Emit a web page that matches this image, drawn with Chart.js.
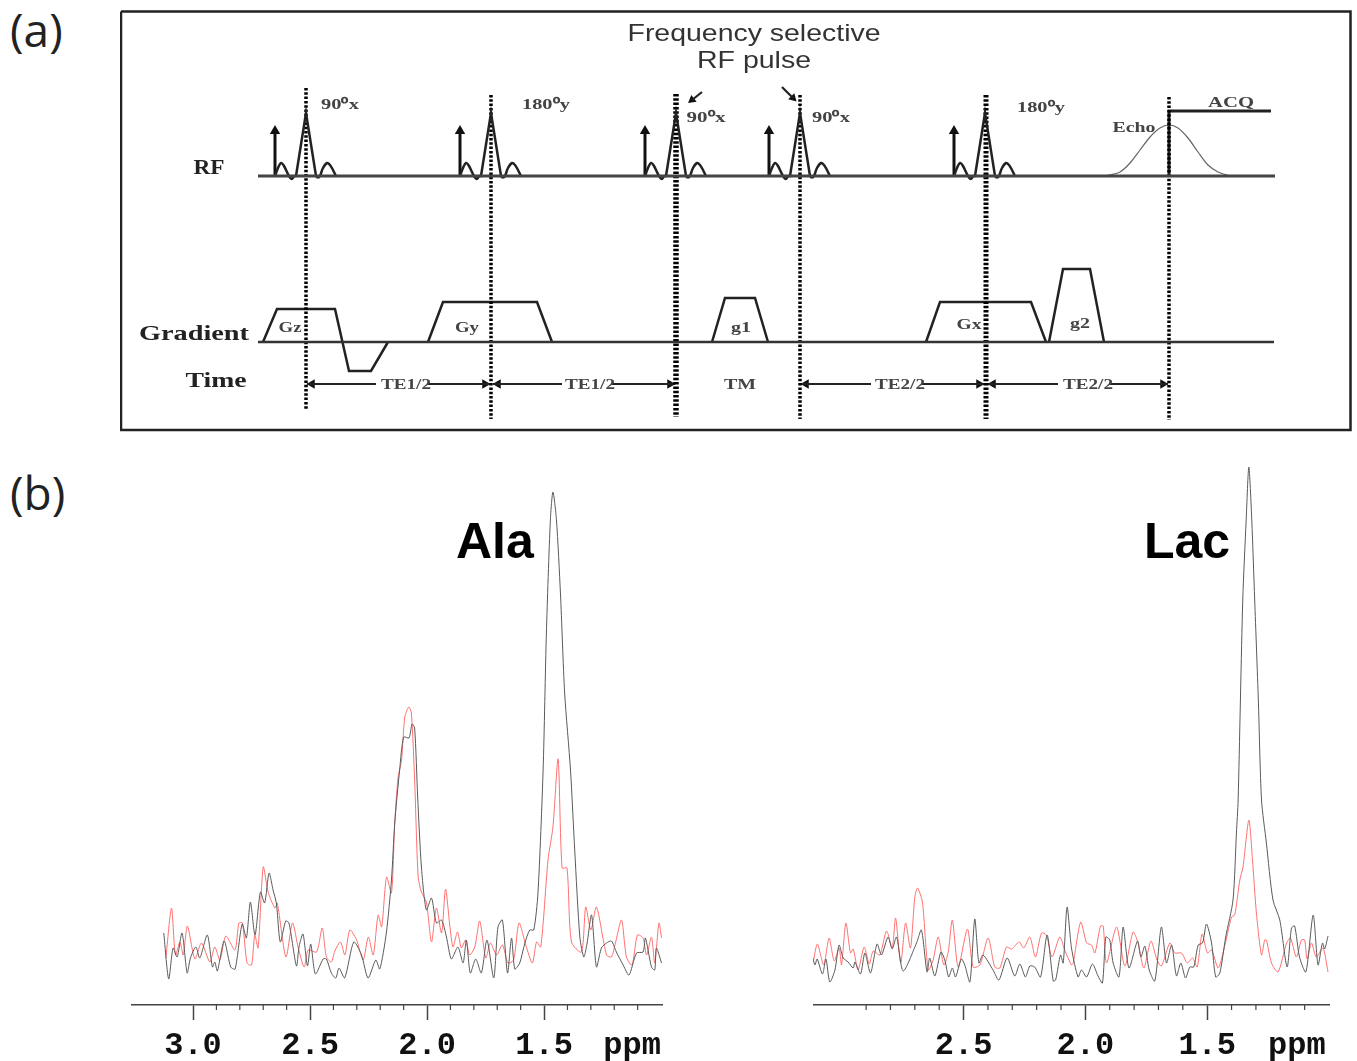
<!DOCTYPE html>
<html>
<head>
<meta charset="utf-8">
<title>Pulse sequence and spectra</title>
<script src="https://cdn.jsdelivr.net/npm/chart.js@4/dist/chart.umd.min.js"></script>
<style>
  html, body { margin: 0; padding: 0; background: #fff; }
  body { position: relative; width: 1357px; height: 1061px; overflow: hidden; }
  canvas { position: absolute; filter: blur(0.55px); }
  #sequence { filter: blur(0.6px); }
  .tag { position: absolute; font-family: "Open Sans", sans-serif; font-size: 46px; line-height: 50px; color: #222; }
  .name { position: absolute; font-family: "Liberation Sans", sans-serif; font-weight: bold; font-size: 50px; line-height: 56px; color: #000; }
</style>
</head>
<body>
<div class="tag" style="left:10px;top:4px">(a)</div>
<div class="tag" style="left:10px;top:467px">(b)</div>
<div class="name" style="left:456px;top:513px">Ala</div>
<div class="name" style="left:1144px;top:513px">Lac</div>
<canvas id="sequence" width="1232" height="422" style="left:120px;top:10px"></canvas>
<canvas id="ala" width="551" height="601" style="left:131px;top:460px"></canvas>
<canvas id="lac" width="536" height="601" style="left:813px;top:460px"></canvas>
<script>
// ---- panel (b) data: chemical shift (ppm) and signal height ----
var alaTickValues = [3.0, 2.5, 2.0, 1.5, 1.124];
var alaTickLabels = ["3.0", "2.5", "2.0", "1.5", "ppm"];
var alaMinorTicks = [2.9, 2.8, 2.7, 2.6, 2.4, 2.3, 2.2, 2.1, 1.9, 1.8, 1.7, 1.6, 1.4, 1.3, 1.2, 1.1];
var lacTickValues = [2.5, 2.0, 1.5, 1.132];
var lacTickLabels = ["2.5", "2.0", "1.5", "ppm"];
var lacMinorTicks = [2.9, 2.8, 2.7, 2.6, 2.4, 2.3, 2.2, 2.1, 1.9, 1.8, 1.7, 1.6, 1.4, 1.3, 1.2, 1.1];

var alaBlackPpm = [3.125,3.104,3.085,3.068,3.047,3.025,3.011,2.988,2.971,2.939,2.917,2.907,2.896,2.867,2.839,2.820,2.790,2.772,2.755,2.735,2.712,2.694,2.675,2.658,2.644,2.627,2.604,2.590,2.558,2.547,2.530,2.511,2.497,2.477,2.444,2.430,2.409,2.390,2.376,2.352,2.313,2.280,2.252,2.219,2.202,2.174,2.152,2.138,2.117,2.100,2.077,2.064,2.053,2.040,2.024,2.003,1.981,1.960,1.938,1.917,1.896,1.868,1.846,1.832,1.815,1.792,1.768,1.744,1.715,1.697,1.678,1.656,1.639,1.625,1.604,1.582,1.561,1.544,1.526,1.504,1.490,1.473,1.462,1.447,1.430,1.412,1.387,1.369,1.347,1.330,1.316,1.297,1.276,1.255,1.233,1.212,1.191,1.162,1.137,1.105,1.077,1.067,1.041,1.027,1.020,0.998];
var alaBlack = [72,26,57,48,72,32,47,58,47,70,38,43,34,64,38,36,81,67,103,70,113,102,132,115,102,63,84,82,39,58,71,39,61,31,46,46,32,27,37,27,63,50,27,45,36,72,125,182,235,268,267,281,277,208,138,95,107,82,85,68,46,58,42,65,32,46,32,65,27,78,85,32,67,36,42,62,75,75,112,235,372,485,513,485,412,312,235,155,68,48,62,90,38,57,62,64,53,40,30,52,53,67,38,35,57,42];

var alaRedPpm = [3.116,3.092,3.075,3.056,3.042,3.024,2.992,2.964,2.928,2.907,2.885,2.860,2.821,2.804,2.789,2.769,2.750,2.736,2.722,2.700,2.679,2.650,2.640,2.603,2.575,2.551,2.525,2.508,2.472,2.448,2.430,2.409,2.394,2.370,2.351,2.330,2.301,2.273,2.251,2.230,2.209,2.194,2.173,2.152,2.138,2.124,2.109,2.095,2.078,2.067,2.053,2.038,2.024,2.003,1.981,1.960,1.938,1.921,1.903,1.889,1.870,1.853,1.835,1.818,1.796,1.775,1.749,1.729,1.703,1.678,1.654,1.630,1.607,1.578,1.550,1.532,1.514,1.483,1.462,1.440,1.423,1.402,1.383,1.340,1.322,1.300,1.276,1.233,1.212,1.195,1.169,1.148,1.124,1.101,1.077,1.062,1.041,1.027,1.009,0.998];
var alaRed = [47,97,50,63,50,79,46,62,43,58,45,69,55,82,82,42,40,70,57,138,113,97,102,48,82,58,38,55,53,77,48,43,54,63,50,75,65,45,68,50,90,78,128,112,182,227,245,288,298,292,225,128,113,103,63,97,72,116,80,58,73,57,65,50,58,84,47,62,50,60,42,45,82,60,42,63,58,145,178,246,137,137,63,53,98,75,98,50,48,62,85,48,40,70,67,50,68,42,82,67];

var lacBlackPpm = [3.120,3.110,3.101,3.079,3.065,3.049,3.028,3.011,2.994,2.974,2.953,2.946,2.923,2.905,2.882,2.855,2.837,2.810,2.793,2.775,2.748,2.693,2.673,2.650,2.639,2.618,2.593,2.577,2.561,2.546,2.533,2.509,2.495,2.474,2.454,2.437,2.420,2.379,2.355,2.321,2.290,2.269,2.246,2.228,2.208,2.184,2.157,2.132,2.122,2.102,2.091,2.075,2.057,2.030,2.016,1.995,1.971,1.948,1.930,1.916,1.900,1.886,1.862,1.845,1.821,1.786,1.772,1.756,1.738,1.715,1.688,1.667,1.646,1.626,1.608,1.589,1.571,1.555,1.537,1.519,1.503,1.482,1.465,1.448,1.424,1.394,1.380,1.373,1.354,1.340,1.329,1.317,1.305,1.290,1.277,1.257,1.230,1.202,1.172,1.154,1.141,1.121,1.095,1.065,1.045,1.027,1.018,1.004];
var lacBlack = [48,40,46,31,46,23,35,60,47,43,37,43,31,52,32,61,50,68,56,68,34,62,75,33,47,29,53,45,28,37,28,46,40,23,86,42,50,35,25,47,29,41,28,39,38,28,70,24,25,50,42,98,57,28,35,28,41,29,22,68,65,42,28,78,37,64,48,59,35,24,78,42,60,29,42,27,38,38,60,62,81,62,28,32,68,105,172,205,405,485,538,485,405,305,205,162,105,85,38,77,79,48,33,90,40,62,56,69];

var lacRedPpm = [3.117,3.100,3.074,3.052,3.031,3.011,3.001,2.983,2.964,2.953,2.933,2.908,2.887,2.871,2.844,2.816,2.793,2.779,2.758,2.738,2.718,2.700,2.689,2.669,2.645,2.625,2.604,2.581,2.563,2.546,2.522,2.484,2.461,2.433,2.399,2.372,2.351,2.324,2.303,2.272,2.253,2.228,2.205,2.180,2.160,2.137,2.105,2.085,2.057,2.050,2.019,1.995,1.975,1.961,1.938,1.927,1.913,1.872,1.838,1.804,1.784,1.760,1.731,1.706,1.688,1.653,1.633,1.605,1.582,1.560,1.541,1.521,1.499,1.482,1.455,1.432,1.400,1.387,1.366,1.353,1.329,1.314,1.298,1.277,1.264,1.257,1.236,1.209,1.174,1.158,1.134,1.113,1.100,1.090,1.072,1.052,1.025,1.004];
var lacRed = [43,61,40,67,44,57,40,82,52,56,35,58,41,54,50,74,57,87,42,82,57,108,117,103,35,45,68,40,53,85,38,76,38,40,67,38,37,58,56,63,57,68,48,72,70,48,68,55,40,42,83,62,60,52,79,79,42,78,39,73,62,37,64,45,39,62,52,52,42,47,38,71,52,55,37,55,88,90,125,138,185,145,92,50,65,65,42,33,62,67,48,65,65,46,62,48,57,33];

// ---- panel (a) data: time position and level of each trace ----
var rfBaseline = [[258,176],[1275,176]];
var gradBaseline = [[258,342],[1274,342]];
var pulseCenters = [306,491,676,800,985];
var lineCenters = [306,491,676,800,986,1169];
var lineTops = [88,95,94,95,95,97];
var lineBottoms = [410,419,417,419,419,420];
var lineWidths = [3.5,3.5,5.5,3.5,5,3.5];
var leftLobeX = [-31,-28,-25,-22,-17,-14,-12];
var leftLobeLevel = [176,168,163,166,176,179,176];
var mainLobeX = [-12,-10,0,10,12];
var mainLobeLevel = [176,176,113,176,178];
var rightLobeX = [12,14,17,21,24,27,30];
var rightLobeLevel = [178,176,168,163,165,170,176];
var gzShape = [[263,342],[277,309],[335,309],[349,371],[371,371],[388,342]];
var gyShape = [[428,342],[443,302],[537,302],[552,342]];
var g1Shape = [[712,342],[725,298],[755,298],[768,342]];
var gxShape = [[926,342],[940,302],[1031,302],[1046,342]];
var g2Shape = [[1049,342],[1063,269],[1090,269],[1104,342]];
var acqShape = [[1169,176],[1169,111],[1271,111]];
var echoShape = [[1106,176],[1120,172],[1130,163],[1140,150],[1150,137],[1160,128],[1169,125],[1178,128],[1188,138],[1198,152],[1208,165],[1218,172],[1230,176]];
var timeSpans = [[307,490,376,428],[493,675,562,612],[801,984,871,922],[988,1168,1058,1110]];
var timeLevel = 384;
var frameShape = [[121,11.5],[1350.5,11.5],[1350.5,430],[121,430],[121,11.5]];
var leftNoteArrow = [[702,92],[692,100]];
var rightNoteArrow = [[782,87],[793,98]];

var labelTexts = ["Frequency selective","RF pulse","90\u2070x","180\u2070y","90\u2070x","90\u2070x","180\u2070y","ACQ","Echo","RF","Gradient","Time","Gz","Gy","g1","Gx","g2","TE1/2","TE1/2","TM","TE2/2","TE2/2"];
var labelX = [754,754,340,546,706,831,1041,1231,1134,209,194,216,290,467,741,969,1080,406,590,740,900,1088];
var labelY = [34,61,105,105,118,118,108,103,128,169,334,381,328,328,328,325,324,385,385,385,385,385];
var labelW = [253,114,38,48,39,38,48,46,43,31,110,61,23,24,20,25,20,50,50,32,50,50];
var labelSize = [24,24,14,14,14,14,14,14,14,21,22,22,14,14,14,14,14,15,15,15,15,15];

function pts(list) {
  return list.map(function (p) { return { x: p[0], y: p[1] }; });
}

function trace(list, width, color, extra) {
  var ds = { data: pts(list), showLine: true, borderColor: color, borderWidth: width, pointRadius: 0, tension: 0, fill: false };
  for (var k in extra) ds[k] = extra[k];
  return ds;
}

function markers(list, rotation, size) {
  return { data: pts(list), showLine: false, pointStyle: 'triangle', pointRadius: size, pointRotation: rotation,
    pointBackgroundColor: '#111', pointBorderColor: '#111', pointBorderWidth: 0 };
}

function shifted(c, xs, levels) {
  return xs.map(function (dx, i) { return [c + dx, levels[i]]; });
}

var seqSets = [];
seqSets.push(trace(frameShape, 2.5, '#222'));
seqSets.push(trace(rfBaseline, 3, '#444'));
seqSets.push(trace(gradBaseline, 2.5, '#333'));
pulseCenters.forEach(function (c) {
  seqSets.push(trace(shifted(c, leftLobeX, leftLobeLevel), 2.5, '#222', { tension: 0.35 }));
  seqSets.push(trace(shifted(c, mainLobeX, mainLobeLevel), 2.5, '#222'));
  seqSets.push(trace(shifted(c, rightLobeX, rightLobeLevel), 2.5, '#222', { tension: 0.35 }));
  seqSets.push(trace([[c - 31, 176], [c - 31, 132]], 3, '#111'));
  seqSets.push(markers([[c - 31, 131]], 0, 6));
});
lineCenters.forEach(function (c, i) {
  seqSets.push(trace([[c, lineTops[i]], [c, lineBottoms[i]]], lineWidths[i], '#000', { borderDash: [2.5, 1.8] }));
});
[gzShape, gyShape, g1Shape, gxShape, g2Shape].forEach(function (s) {
  seqSets.push(trace(s, 2.5, '#222'));
});
seqSets.push(trace(acqShape, 3, '#222'));
seqSets.push(trace(echoShape, 1.2, '#666', { tension: 0.3 }));
timeSpans.forEach(function (s) {
  seqSets.push(trace([[s[0], timeLevel], [s[2], timeLevel]], 2.2, '#222'));
  seqSets.push(trace([[s[3], timeLevel], [s[1], timeLevel]], 2.2, '#222'));
  seqSets.push(markers([[s[0] + 5, timeLevel]], -90, 5.5));
  seqSets.push(markers([[s[1] - 5, timeLevel]], 90, 5.5));
});
seqSets.push(trace(leftNoteArrow, 2.2, '#222'));
seqSets.push(markers([leftNoteArrow[1]], 232, 5));
seqSets.push(trace(rightNoteArrow, 2.2, '#222'));
seqSets.push(markers([rightNoteArrow[1]], 135, 5));

// text sits at data positions and is stretched to the width
var seqLabels = {
  id: 'seqLabels',
  afterDatasetsDraw: function (chart) {
    var c = chart.ctx;
    labelTexts.forEach(function (t, i) {
      var big = labelSize[i] >= 21;
      var sans = i < 2;
      c.save();
      c.font = (sans ? 'normal ' : 'bold ') + labelSize[i] + 'px ' + (sans ? '"Liberation Sans"' : '"Liberation Serif"');
      c.fillStyle = sans ? '#333' : (big ? '#222' : '#444');
      c.textAlign = 'center';
      c.textBaseline = 'middle';
      c.translate(chart.scales.x.getPixelForValue(labelX[i]), chart.scales.y.getPixelForValue(labelY[i]));
      c.scale(labelW[i] / c.measureText(t).width, 1);
      c.fillText(t, 0, 0);
      c.restore();
    });
  }
};

new Chart(document.getElementById('sequence'), {
  type: 'scatter',
  data: { datasets: seqSets },
  plugins: [seqLabels],
  options: {
    responsive: false,
    animation: false,
    layout: { padding: 0, autoPadding: false },
    plugins: { legend: { display: false }, tooltip: { enabled: false } },
    scales: {
      x: { type: 'linear', display: false, min: 120, max: 1352 },
      y: { type: 'linear', display: false, reverse: true, min: 10, max: 432 }
    }
  }
});

function spectrum(id, xMin, xMax, blackPpm, black, redPpm, red, tickValues, tickLabels, minorTicks) {
  var minorPlugin = {
    id: 'minorTicks',
    afterDraw: function (chart) {
      var c = chart.ctx, s = chart.scales.x, b = chart.chartArea.bottom;
      c.save();
      c.strokeStyle = '#444';
      c.lineWidth = 1.2;
      minorTicks.forEach(function (v) {
        var px = s.getPixelForValue(v);
        c.beginPath();
        c.moveTo(px, b);
        c.lineTo(px, b + 5);
        c.stroke();
      });
      c.restore();
    }
  };
  function series(xs, ys, color) {
    return { data: xs.map(function (x, i) { return { x: x, y: ys[i] }; }), showLine: true, borderColor: color, borderWidth: 1,
      pointRadius: 0, tension: 0.25, fill: false };
  }
  new Chart(document.getElementById(id), {
    type: 'scatter',
    data: { datasets: [series(blackPpm, black, '#5a5a5a'), series(redPpm, red, '#ff7070')] },
    plugins: [minorPlugin],
    options: {
      responsive: false,
      animation: false,
      layout: { padding: { left: 0, right: 20, top: 0, bottom: 0 }, autoPadding: false },
      plugins: { legend: { display: false }, tooltip: { enabled: false } },
      scales: {
        x: {
          type: 'linear', reverse: true, min: xMin, max: xMax, position: 'bottom',
          border: { color: '#444', width: 1.5 },
          grid: {
            drawOnChartArea: false, tickLength: 15, tickWidth: 1.5,
            tickColor: function (ctx) { return ctx.tick && ctx.index === tickValues.length - 1 ? 'rgba(0,0,0,0)' : '#444'; }
          },
          afterBuildTicks: function (scale) {
            scale.ticks = tickValues.map(function (v) { return { value: v }; });
          },
          afterFit: function (scale) { scale.height = 56; },
          ticks: {
            autoSkip: false, maxRotation: 0, padding: 7, color: '#111',
            font: { family: '"Liberation Mono"', weight: 'bold', size: 32 },
            callback: function (v, i) { return tickLabels[i]; }
          }
        },
        y: { type: 'linear', display: false, min: 0, max: 545 }
      }
    }
  });
}

spectrum('ala', 0.996, 3.265, alaBlackPpm, alaBlack, alaRedPpm, alaRed, alaTickValues, alaTickLabels, alaMinorTicks);
spectrum('lac', 1.0, 3.118, lacBlackPpm, lacBlack, lacRedPpm, lacRed, lacTickValues, lacTickLabels, lacMinorTicks);
</script>
</body>
</html>
